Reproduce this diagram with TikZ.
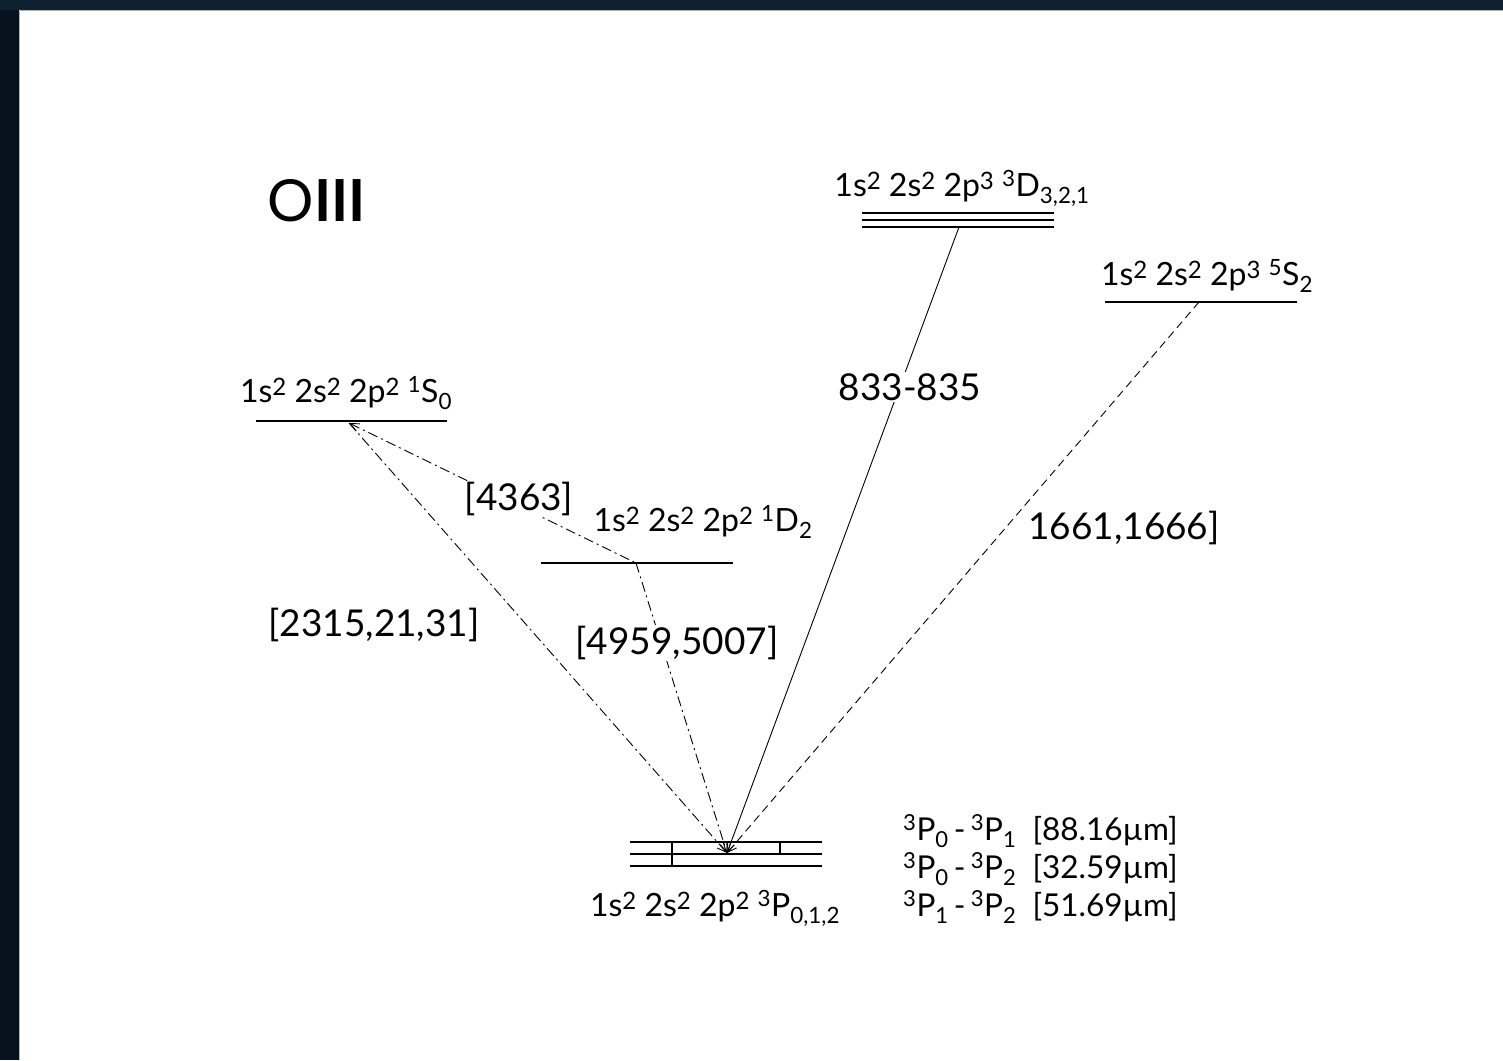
\documentclass[tikz,border=0pt]{standalone}
\usepackage{fontspec}
\setmainfont{Lato}
\usetikzlibrary{arrows.meta}
\definecolor{navyL}{HTML}{06121D}
\definecolor{navyT}{HTML}{0D2131}
\newcommand\sqd[1]{\raisebox{0.42ex}{\fontsize{24}{24}\selectfont #1}}
\tikzset{
  lvline/.style={line width=2.2pt},
  lvlabel/.style={font=\fontsize{32}{36}\selectfont, anchor=base, inner sep=0pt},
  trlabel/.style={font=\fontsize{37}{42}\selectfont, fill=white, inner sep=1pt},
  fslabel/.style={font=\fontsize{31.5}{36}\selectfont, anchor=base west, inner sep=0pt},
  trline/.style={line width=0.9pt, -{Straight Barb[length=9pt,width=8pt]}},
  dashdotline/.style={dash pattern=on 10pt off 4pt on 2pt off 4pt},
  dashline/.style={dash pattern=on 8pt off 5pt},
  tick/.style={line width=1.4pt}
}
\begin{document}
\begin{tikzpicture}[x=1pt,y=-1pt]
\useasboundingbox (0,0) rectangle (1503,1060);
\fill[white] (0,0) rectangle (1503,1060);
\fill[navyL] (0,0) rectangle (19,1060);
\fill[navyT] (0,0) rectangle (1503,10);
\draw[gray!60,line width=0.8pt] (19.5,10.5) -- (1503,10.5);
\draw[gray!60,line width=0.8pt] (19.5,10.5) -- (19.5,1060);

% title
\node[font=\fontsize{58}{64}\selectfont, anchor=base, inner sep=0pt] (title) at (317,221) {O\textbf{III}};

% 1S0 level
\coordinate (s0a) at (256,421); \coordinate (s0b) at (447,421);
\draw[lvline] (s0a) -- (s0b);
\node[lvlabel] (s0lab) at (346,402) {1s\sqd{2} 2s\sqd{2} 2p\sqd{2} \textsuperscript{1}S\textsubscript{0}};
\coordinate (s0src) at (349,423);

% 1D2 level
\coordinate (d2a) at (541,563); \coordinate (d2b) at (733,563);
\draw[lvline] (d2a) -- (d2b);
\node[lvlabel] (d2lab) at (703,531) {1s\sqd{2} 2s\sqd{2} 2p\sqd{2} \textsuperscript{1}D\textsubscript{2}};
\coordinate (d2src) at (636,563);

% 3D level
\foreach \yy/\nm in {213/da,220/db,227/dc}{
  \coordinate (\nm l) at (862,\yy); \coordinate (\nm r) at (1054,\yy);
  \draw[line width=2pt] (\nm l) -- (\nm r);
}
\node[lvlabel] (dlab) at (962,196) {1s\sqd{2} 2s\sqd{2} 2p\sqd{3} \textsuperscript{3}D\textsubscript{3,2,1}};
\coordinate (dsrc) at (959,227);

% 5S2 level
\coordinate (s2a) at (1105,302); \coordinate (s2b) at (1297,302);
\draw[lvline] (s2a) -- (s2b);
\node[lvlabel] (s2lab) at (1207,285) {1s\sqd{2} 2s\sqd{2} 2p\sqd{3} \textsuperscript{5}S\textsubscript{2}};
\coordinate (s2src) at (1199,302);

% ground level
\foreach \yy/\nm in {842/ga,854/gb,866/gc}{
  \coordinate (\nm l) at (630,\yy); \coordinate (\nm r) at (822,\yy);
  \draw[line width=2.2pt] (\nm l) -- (\nm r);
}
\coordinate (t1a) at (672,842); \coordinate (t1b) at (672,866);
\coordinate (t2a) at (780,842); \coordinate (t2b) at (780,854);
\draw[tick] (t1a) -- (t1b);
\draw[tick] (t2a) -- (t2b);
\node[lvlabel] (glab) at (715,916) {1s\sqd{2} 2s\sqd{2} 2p\sqd{2} \textsuperscript{3}P\textsubscript{0,1,2}};
\coordinate (gnd) at (727,853);

% transitions
\draw[trline,dashdotline] (s0src) -- (gnd);
\draw[line width=0.9pt,dashdotline,{Straight Barb[length=9pt,width=8pt]}-] (s0src) -- (d2src);
\draw[trline,dashdotline] (d2src) -- (gnd);
\draw[trline] (dsrc) -- (gnd);
\draw[trline,dashline] (s2src) -- (gnd);

% transition labels
\node[trlabel] (l4363) at (519,499) {[4363]};
\node[trlabel] (l2315) at (374,625) {[2315,21,31]};
\node[trlabel] (l4959) at (677,643) {[4959,5007]};
\node[trlabel] (l833) at (910,387) {833-835};
\node[trlabel, fill=none] (l1661) at (1124,528) {1661,1666]};

% fine-structure list
\node[fslabel] (fs1) at (903,840) {\textsuperscript{3}P\textsubscript{0}\,-\,\textsuperscript{3}P\textsubscript{1}\ \ [88.16µm]};
\node[fslabel] (fs2) at (903,878) {\textsuperscript{3}P\textsubscript{0}\,-\,\textsuperscript{3}P\textsubscript{2}\ \ [32.59µm]};
\node[fslabel] (fs3) at (903,916) {\textsuperscript{3}P\textsubscript{1}\,-\,\textsuperscript{3}P\textsubscript{2}\ \ [51.69µm]};
\end{tikzpicture}
\end{document}
